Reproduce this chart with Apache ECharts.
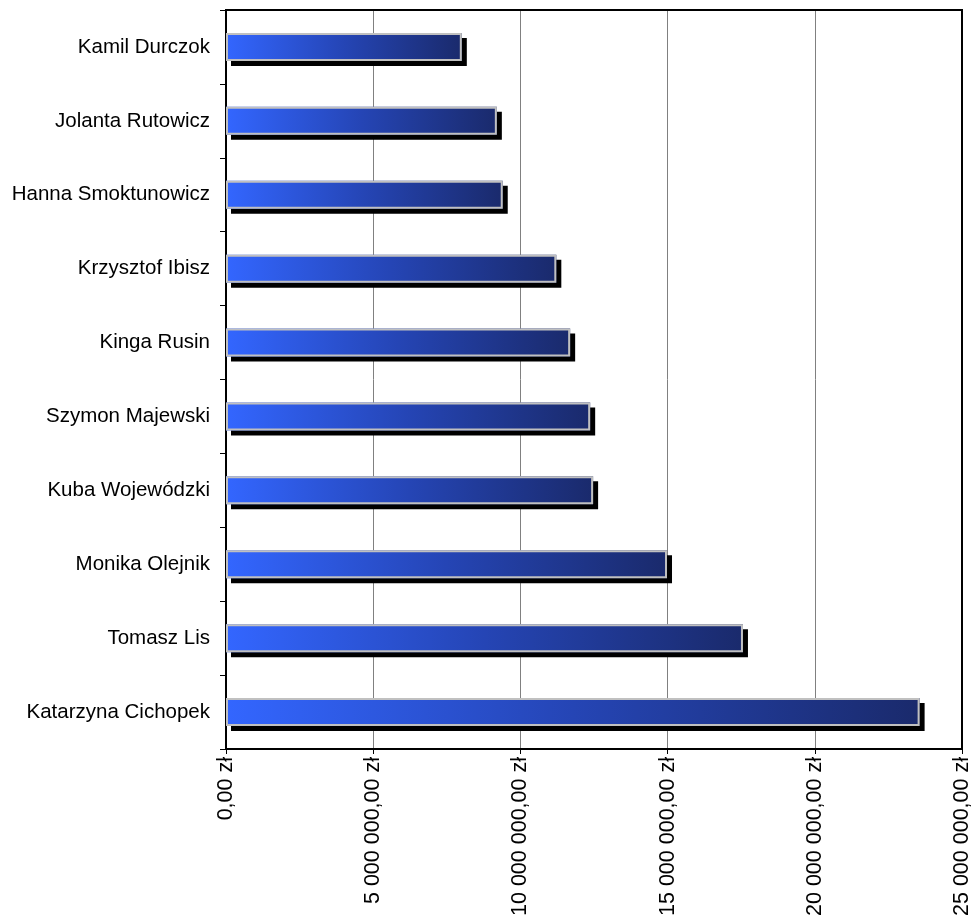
<!DOCTYPE html>
<html>
<head>
<meta charset="utf-8">
<script src="https://cdn.jsdelivr.net/npm/echarts@6/dist/echarts.min.js"></script>
<style>
html,body{margin:0;padding:0;background:#fff;}
#chart{width:973px;height:920px;}
</style>
</head>
<body>
<div id="chart"></div>
<script>
const categories = ["Kamil Durczok","Jolanta Rutowicz","Hanna Smoktunowicz","Krzysztof Ibisz","Kinga Rusin","Szymon Majewski","Kuba Wojewódzki","Monika Olejnik","Tomasz Lis","Katarzyna Cichopek"];
const values = [8010000, 9200000, 9400000, 11220000, 11690000, 12370000, 12470000, 14980000, 17560000, 23560000];
const xMin = 0, xMax = 25000000, xStep = 5000000;

function fmt(v){
  const s = Math.round(v).toString().replace(/\B(?=(\d{3})+(?!\d))/g, ' ');
  return s + ',00 zł';
}

const chart = echarts.init(document.getElementById('chart'));
chart.setOption({
  animation: false,
  backgroundColor: '#ffffff',
  grid: {left: 226, right: 10, top: 10, bottom: 171, containLabel: false,
         show: true, borderColor: '#000', borderWidth: 2, backgroundColor: 'transparent'},
  xAxis: [{
    type: 'value', min: xMin, max: xMax, interval: xStep,
    axisLine: {show: true, lineStyle: {color: '#000', width: 2}},
    axisTick: {show: true, length: 5, lineStyle: {color: '#000', width: 1}},
    splitLine: {show: true, lineStyle: {color: '#808080', width: 1}},
    axisLabel: {rotate: 90, margin: 8, fontSize: 21.5, color: '#000',
                fontFamily: 'Liberation Sans, Arial, sans-serif', formatter: fmt}
  }, {
    type: 'value', position: 'top', min: xMin, max: xMax, interval: xStep,
    axisLine: {show: true, onZero: false, lineStyle: {color: '#000', width: 2}},
    axisTick: {show: false}, axisLabel: {show: false}, splitLine: {show: false}
  }],
  yAxis: [{
    type: 'category', data: categories, inverse: true,
    axisLine: {show: true, lineStyle: {color: '#000', width: 2}},
    axisTick: {show: true, length: 6, lineStyle: {color: '#000', width: 1}},
    axisLabel: {margin: 16, fontSize: 20.5, color: '#000',
                fontFamily: 'Liberation Sans, Arial, sans-serif'}
  }, {
    type: 'category', data: categories, inverse: true, position: 'right',
    axisLine: {show: true, onZero: false, lineStyle: {color: '#000', width: 2}},
    axisTick: {show: false}, axisLabel: {show: false}, splitLine: {show: false}
  }],
  series: [{
    type: 'bar',
    data: values,
    barWidth: 28,
    z: 2,
    itemStyle: {
      color: new echarts.graphic.LinearGradient(0, 0, 1, 0, [
        {offset: 0, color: '#3366ff'},
        {offset: 0.5, color: '#2545b5'},
        {offset: 1, color: '#1a2a6c'}
      ]),
      borderWidth: 0,
      shadowColor: '#000',
      shadowBlur: 0,
      shadowOffsetX: 5,
      shadowOffsetY: 5
    }
  }, {
    type: 'bar',
    data: values,
    barWidth: 28,
    barGap: '-100%',
    z: 3,
    silent: true,
    itemStyle: {
      color: 'rgba(0,0,0,0)',
      borderColor: '#c0c0c0',
      borderWidth: 2
    }
  }]
});
</script>
</body>
</html>
